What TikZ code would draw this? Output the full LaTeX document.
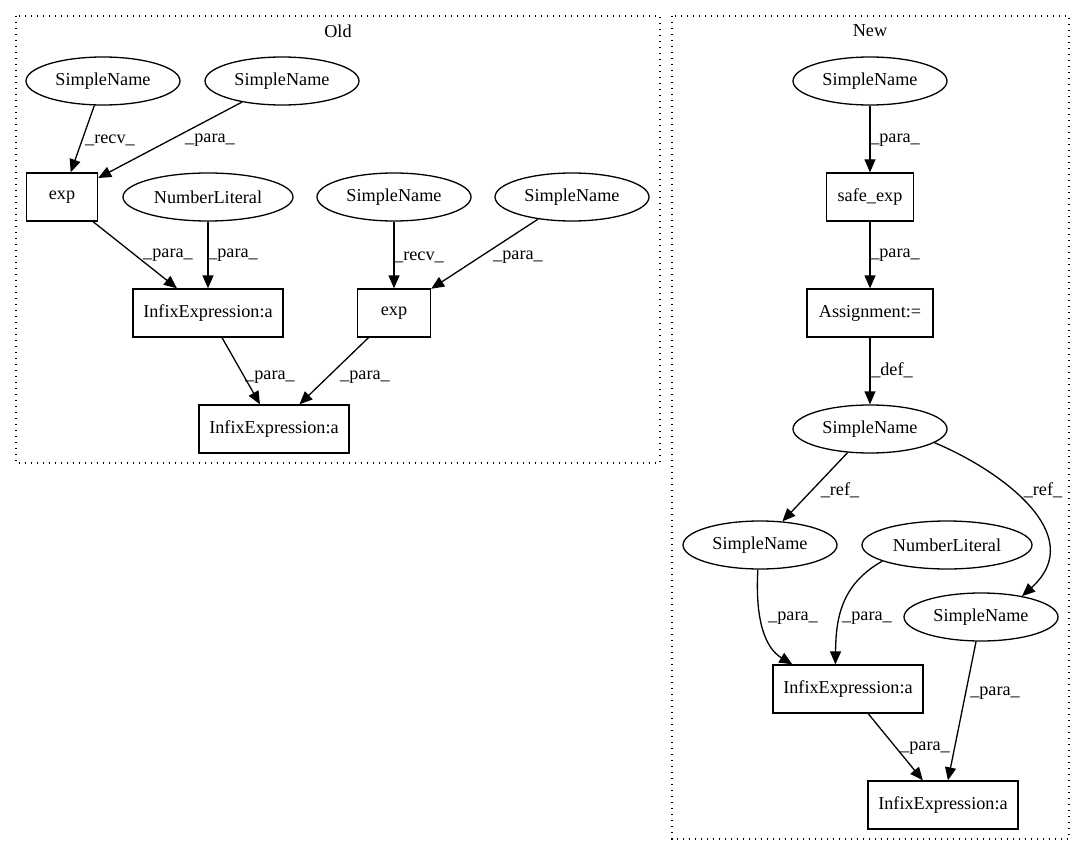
\documentclass[tikz,border=0pt]{standalone}
\usepackage{fontspec}
\setmainfont{Liberation Serif}
\usetikzlibrary{shapes.geometric,arrows.meta,calc}
\begin{document}
\begin{tikzpicture}[x=1pt,y=-1pt,
  every node/.style={font=\fontsize{18.2}{22}\selectfont},
  ell/.style={draw,ellipse,line width=1.3pt,inner sep=0pt,minimum width=154pt,minimum height=48pt},
  nl/.style={ell,minimum width=170pt},
  box/.style={draw,rectangle,line width=1.3pt,inner sep=0pt,minimum height=48pt},
  cluster/.style={draw,line width=1.3pt,dash pattern=on 1.3pt off 4.7pt},
  edge/.style={draw,line width=1.3pt,-{Triangle[length=13pt,width=11pt]}},
  lbl/.style={inner sep=0pt}]
\useasboundingbox (0,0) rectangle (1085,856);
% clusters
\draw[cluster] (16,16) rectangle (660,463);
\draw[cluster] (672,16) rectangle (1069,839);
\node (oldlbl) at (338,31) {Old};
\node (newlbl) at (870,31) {New};
% Old nodes
\node[ell] (osn1) at (103,81) {SimpleName};
\node[ell] (osn2) at (282,81) {SimpleName};
\node[box,minimum width=71pt] (oexp1) at (62,197) {exp};
\node[nl] (onl) at (208,197) {NumberLiteral};
\node[ell] (osn3) at (394,197) {SimpleName};
\node[ell] (osn4) at (572,197) {SimpleName};
\node[box,minimum width=150pt] (oinf1) at (208,313) {InfixExpression:a};
\node[box,minimum width=73pt] (oexp2) at (394,313) {exp};
\node[box,minimum width=150pt] (oinf2) at (274,429) {InfixExpression:a};
% Old edges
\draw[edge] (osn1) -- (oexp1);
\draw[edge] (osn2) -- (oexp1);
\draw[edge] (oexp1) -- (oinf1);
\draw[edge] (onl) -- (oinf1);
\draw[edge] (osn3) -- (oexp2);
\draw[edge] (osn4) -- (oexp2);
\draw[edge] (oinf1) -- (oinf2);
\draw[edge] (oexp2) -- (oinf2);
\node[lbl] (l1) at (110,140) {\_recv\_};
\node[lbl] (l2) at (210,140) {\_para\_};
\node[lbl] (l3) at (168,255) {\_para\_};
\node[lbl] (l4) at (233,255) {\_para\_};
\node[lbl] (l5) at (419,257) {\_recv\_};
\node[lbl] (l6) at (518,257) {\_para\_};
\node[lbl] (l7) at (270,377) {\_para\_};
\node[lbl] (l8) at (365,377) {\_para\_};
% New nodes
\node[ell] (nsn0) at (870,81) {SimpleName};
\node[box,minimum width=87pt] (nsafe) at (870,197) {safe\_exp};
\node[box,minimum width=126pt] (nasg) at (870,313) {Assignment:=};
\node[ell] (nsn) at (870,429) {SimpleName};
\node[ell] (nsnl) at (760,545) {SimpleName};
\node[nl] (nnl) at (947,545) {NumberLiteral};
\node[ell] (nsnr) at (981,617) {SimpleName};
\node[box,minimum width=150pt] (ninf1) at (848,689) {InfixExpression:a};
\node[box,minimum width=150pt] (ninf2) at (943,805) {InfixExpression:a};
% New edges
\draw[edge] (nsn0) -- (nsafe);
\draw[edge] (nsafe) -- (nasg);
\draw[edge] (nasg) -- (nsn);
\draw[edge] (nsn) -- (nsnl);
\draw[edge] (nsn.-12.5) .. controls (1000,470) and (1090,535) .. (nsnr.27.5);
\draw[edge] (nsnl.-95) .. controls (755,620) and (765,648) .. ($(ninf1.north west)+(20,0)$);
\draw[edge] (nnl.194) .. controls (840,585) and (836,620) .. ($(ninf1.north west)+(63,0)$);
\draw[edge] (nsnr) -- (ninf2);
\draw[edge] (ninf1) -- (ninf2);
\node[lbl] (m1) at (895,140) {\_para\_};
\node[lbl] (m2) at (895,255) {\_para\_};
\node[lbl] (m3) at (892,370) {\_def\_};
\node[lbl] (m4) at (840,490) {\_ref\_};
\node[lbl] (m5) at (1043,490) {\_ref\_};
\node[lbl] (m6) at (793,618) {\_para\_};
\node[lbl] (m7) at (867,618) {\_para\_};
\node[lbl] (m8) at (995,693) {\_para\_};
\node[lbl] (m9) at (925,748) {\_para\_};
\end{tikzpicture}
\end{document}
